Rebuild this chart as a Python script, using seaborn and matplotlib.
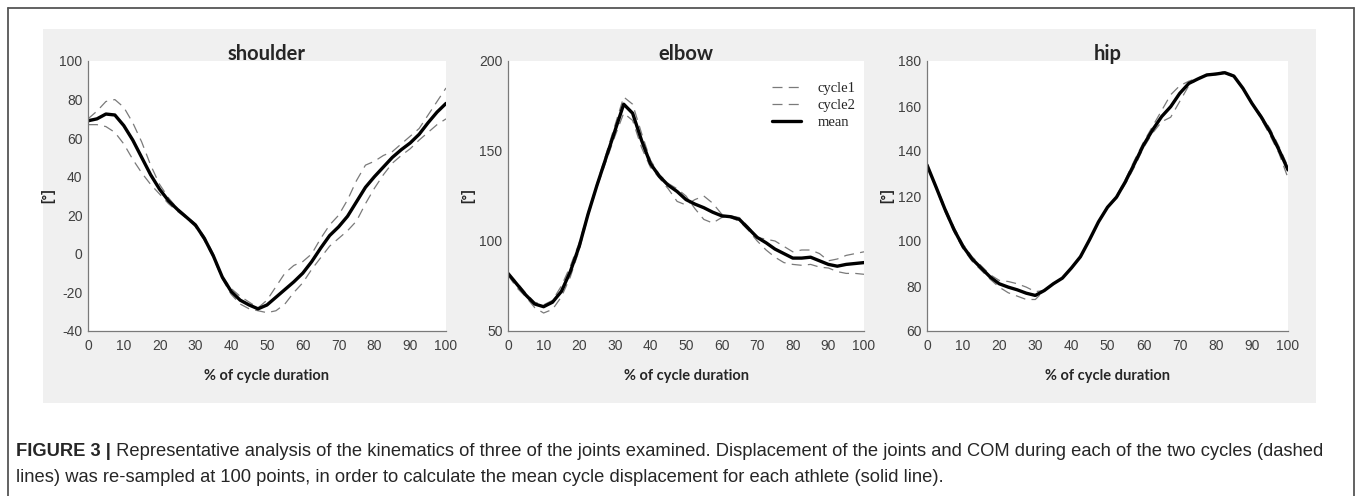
import numpy as np
import pandas as pd
import matplotlib
matplotlib.use("Agg")
import matplotlib.pyplot as plt
from matplotlib.lines import Line2D
from matplotlib.patches import Rectangle
import seaborn as sns

# % of cycle duration, sampled every 2.5 %
pct = [i * 2.5 for i in range(41)]

shoulder_c1 = [70, 74, 79, 80, 76, 68, 58, 46, 36, 29, 23.5, 19.5, 15.5, 9, 0, -12, -18, -22, -25, -28, -24,
               -17, -10, -6, -4, 0, 8, 15, 20, 28, 38, 46, 48, 51, 53, 57, 61, 65, 72, 79, 86]
shoulder_c2 = [67, 67, 66, 63, 57, 49, 42, 36, 31, 26, 22, 18.5, 14, 7, -2, -13, -21, -26, -28.5, -29.5, -30.5,
               -29.5, -26, -20, -15, -8, -2, 4, 8, 12, 17, 26, 34, 41, 47, 51, 54.5, 59, 63, 67, 70]
shoulder_mean = [69, 70, 72.5, 72, 66.5, 59, 50, 41, 33.5, 27.5, 23, 19, 15, 8, -1, -12, -19.5, -24, -26.5, -28.5, -26.5,
                 -22.5, -18.5, -14.5, -10, -4, 3, 9.5, 14, 19.5, 27, 34.5, 40, 45, 50, 54, 57.5, 62, 68, 73.5, 78]

elbow_c1 = [82, 77, 71, 66, 64.5, 67, 75, 86, 99, 116, 132, 148, 164, 180, 176, 160, 145, 137, 132, 129, 125,
            118, 112, 110, 113, 114, 113, 108, 102, 101, 100, 97, 94, 95, 95, 93, 89, 90, 92, 93, 94]
elbow_c2 = [81, 74, 69, 63, 60, 62, 69, 80, 95, 114, 130, 144, 158, 171, 167, 152, 141, 135, 129, 122, 120,
            123, 125, 121, 115, 113, 111, 106, 100, 95, 91, 88, 87, 86.5, 87, 85.5, 85, 83, 82, 82, 81.5]
elbow_mean = [82, 76, 70, 65, 63.5, 66, 72, 83, 97, 115, 131, 146, 161, 176, 171, 156, 143, 136, 131, 127.5, 123,
              120.5, 118.5, 116, 114, 113.5, 112, 107, 102, 99, 95.5, 93, 90.5, 90.5, 91, 89, 87, 86, 87, 87.5, 88]

hip_c1 = [134, 124.5, 115, 106, 98.5, 93, 89, 85, 82.5, 82, 81, 79.5, 77.5, 78, 81, 83.5, 88, 93, 100.5, 108.5, 115,
          120, 127.5, 136, 144, 151, 158, 165, 169, 171, 172.5, 173.5, 174, 175.5, 173.5, 168, 161.5, 156, 150, 142, 133]
hip_c2 = [133.5, 123.5, 113, 104, 96.5, 91, 87, 83, 79.5, 77, 75.5, 74, 74, 78, 81, 83.5, 88, 93, 100.5, 108.5, 115,
          119, 125.5, 133, 141.5, 148, 153, 155, 162, 169, 172, 174, 174.5, 174.5, 173, 167.5, 161, 154.5, 147, 139, 128]
hip_mean = [133.8, 124, 114, 105, 97.5, 92, 88, 84, 81, 79.5, 78.3, 76.8, 75.8, 78, 81, 83.5, 88, 93, 100.5, 108.5, 115,
            119.5, 126.5, 134.5, 142.7, 149.4, 155.3, 159.7, 165.6, 170, 172, 173.8, 174.2, 174.8, 173.3, 167.9, 161.2,
            155.3, 148.6, 140.5, 131.6]

joints = ["shoulder", "elbow", "hip"]
series = {
    "shoulder": (shoulder_c1, shoulder_c2, shoulder_mean),
    "elbow": (elbow_c1, elbow_c2, elbow_mean),
    "hip": (hip_c1, hip_c2, hip_mean),
}
y_ranges = {"shoulder": (-40, 100, 20), "elbow": (50, 200, 50), "hip": (60, 180, 20)}
legend_labels = ["cycle1", "cycle2", "mean"]
x_label = "% of cycle duration"
y_label = "[°]"
caption_bold = "FIGURE 3 |"
caption_1 = (" Representative analysis of the kinematics of three of the joints examined. Displacement of the "
             "joints and COM during each of the two cycles (dashed")
caption_2 = ("lines) was re-sampled at 100 points, in order to calculate the mean cycle displacement for each "
             "athlete (solid line).")

sns.set_style("white")
plt.rcParams["font.family"] = ["Liberation Sans", "DejaVu Sans"]
plt.rcParams["axes.unicode_minus"] = False

W, H = 1357, 496
fig = plt.figure(figsize=(W / 100, H / 100), dpi=100)


def fx(px):
    return px / W


def fy(py):
    return 1 - py / H


# outer frame and grey panel
fig.add_artist(Rectangle((fx(43), fy(403)), fx(1316) - fx(43), fy(29) - fy(403),
                         transform=fig.transFigure, facecolor="#f0f0f0", edgecolor="none", zorder=0))
for xs, ys in [([8, 1354], [8, 8]), ([8, 8], [8, 500]), ([1354, 1354], [8, 500])]:
    fig.add_artist(Line2D([fx(v) for v in xs], [fy(v) for v in ys], transform=fig.transFigure,
                          color="#555555", lw=1.3))

ax_left = {"shoulder": 88, "elbow": 508, "hip": 927}
ax_right = {"shoulder": 446, "elbow": 864, "hip": 1288}
dash = (0, (8, 5))

for name in joints:
    ax = fig.add_axes([fx(ax_left[name]), fy(331), fx(ax_right[name]) - fx(ax_left[name]), fy(61) - fy(331)])
    ax.set_facecolor("white")
    c1, c2, m = series[name]
    sns.lineplot(x=pct, y=c1, ax=ax, color="#7a7a7a", lw=0.9, linestyle=dash, label=legend_labels[0])
    sns.lineplot(x=pct, y=c2, ax=ax, color="#7a7a7a", lw=0.9, linestyle=dash, label=legend_labels[1])
    sns.lineplot(x=pct, y=m, ax=ax, color="black", lw=2.4, label=legend_labels[2])
    lo, hi, step = y_ranges[name]
    ax.set_xlim(0, 100)
    ax.set_ylim(lo, hi)
    ax.set_xticks(np.arange(0, 101, 10))
    ax.set_yticks(np.arange(lo, hi + 1, step))
    sns.despine(ax=ax)
    for s in ["left", "bottom"]:
        ax.spines[s].set_color("#7a7a7a")
        ax.spines[s].set_linewidth(0.9)
    ax.tick_params(direction="in", length=4, width=0.8, color="#7a7a7a", labelsize=10,
                   labelcolor="#404040")
    ax.tick_params(axis="x", pad=5.5)
    ax.tick_params(axis="y", pad=4)
    ax.set_title(name, fontfamily="Lato", fontweight="bold", fontsize=14.5, pad=1)
    ax.set_xlabel(x_label, fontfamily="Lato", fontweight="bold", fontsize=10.5, labelpad=12)
    ax.set_ylabel(y_label, fontweight="bold", fontsize=10, labelpad=3)
    if name == "elbow":
        ax.legend(loc="upper right", bbox_to_anchor=(1.0, 0.955), frameon=False,
                  prop={"family": "Liberation Serif", "size": 10.5}, handlelength=2.0,
                  handletextpad=1.1, labelspacing=0.25, borderaxespad=0.2)
    else:
        ax.get_legend().remove()

cap_font = ["Liberation Sans Narrow", "Liberation Sans", "DejaVu Sans"]
t = fig.text(fx(16), fy(451), caption_bold, fontfamily=cap_font, fontweight="bold",
             fontsize=13.2, va="center", ha="left")
fig.canvas.draw()
bb = t.get_window_extent(fig.canvas.get_renderer())
fig.text(bb.x1 / W, fy(451), caption_1, fontfamily=cap_font, fontsize=13.2, va="center", ha="left")
fig.text(fx(16), fy(478), caption_2, fontfamily=cap_font, fontsize=13.2, va="center", ha="left")

fig.savefig("out.png", dpi=100)
